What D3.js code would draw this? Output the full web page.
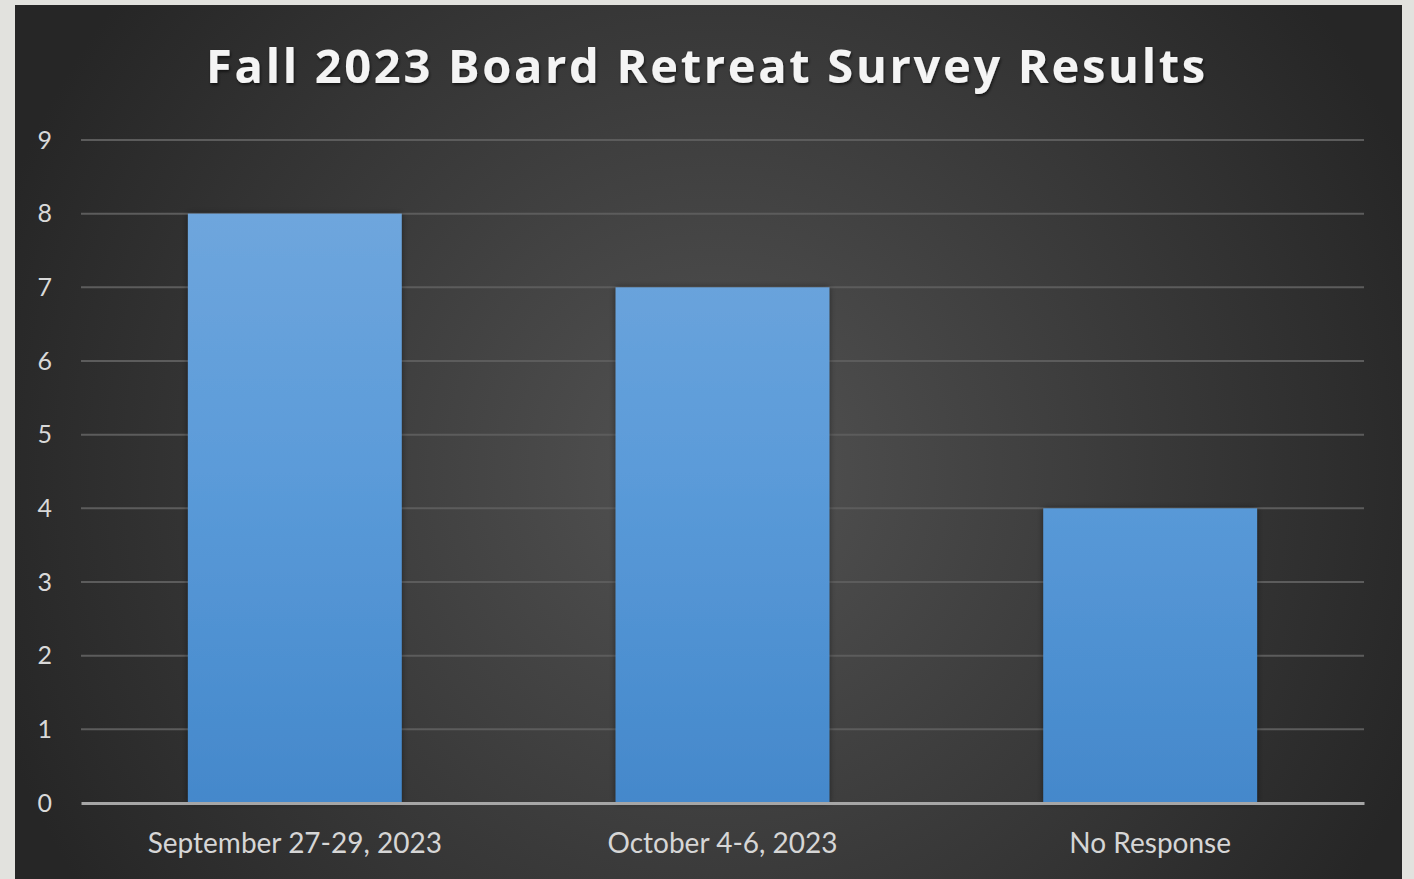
<!DOCTYPE html>
<html>
<head>
<meta charset="utf-8">
<script src="https://cdn.jsdelivr.net/npm/d3@7"></script>
<style>
  html, body { margin: 0; padding: 0; background: #e2e2de; }
  svg { display: block; }
</style>
</head>
<body>
<svg id="chart" width="1414" height="879"></svg>
<script>
// Survey data
const categories = ["September 27-29, 2023", "October 4-6, 2023", "No Response"];
const responses = [8, 7, 4];
const yTicks = [0, 1, 2, 3, 4, 5, 6, 7, 8, 9];
const titleText = "Fall 2023 Board Retreat Survey Results";

const svg = d3.select("#chart");

// Panel geometry
const panel = { x: 15, y: 5, w: 1387, h: 880 };
const plot = { left: 81, right: 1364, top: 140, bottom: 803 };

const defs = svg.append("defs");

const bg = defs.append("radialGradient")
  .attr("id", "bgGrad")
  .attr("gradientUnits", "userSpaceOnUse")
  .attr("cx", 715).attr("cy", 470).attr("r", 760);
bg.append("stop").attr("offset", "0%").attr("stop-color", "#535353");
bg.append("stop").attr("offset", "55%").attr("stop-color", "#3a3a3a");
bg.append("stop").attr("offset", "100%").attr("stop-color", "#262626");

const barGrad = defs.append("linearGradient")
  .attr("id", "barGrad")
  .attr("gradientUnits", "userSpaceOnUse")
  .attr("x1", 0).attr("y1", plot.top).attr("x2", 0).attr("y2", plot.bottom);
barGrad.append("stop").attr("offset", "0%").attr("stop-color", "#74a9de");
barGrad.append("stop").attr("offset", "50%").attr("stop-color", "#5b9bd9");
barGrad.append("stop").attr("offset", "100%").attr("stop-color", "#4488cb");

const shadow = defs.append("filter").attr("id", "barShadow")
  .attr("x", "-10%").attr("y", "-10%").attr("width", "120%").attr("height", "120%");
shadow.append("feDropShadow")
  .attr("dx", 0).attr("dy", 0).attr("stdDeviation", 3)
  .attr("flood-color", "#000").attr("flood-opacity", 0.45);

const tShadow = defs.append("filter").attr("id", "titleShadow")
  .attr("x", "-5%").attr("y", "-30%").attr("width", "110%").attr("height", "160%");
tShadow.append("feDropShadow")
  .attr("dx", 1).attr("dy", 2).attr("stdDeviation", 1.5)
  .attr("flood-color", "#000").attr("flood-opacity", 0.6);

// Background panel
svg.append("rect")
  .attr("x", panel.x).attr("y", panel.y)
  .attr("width", panel.w).attr("height", panel.h)
  .attr("fill", "url(#bgGrad)");

// Scales
const x = d3.scaleBand()
  .domain(categories)
  .range([plot.left, plot.right])
  .paddingInner(0.5)
  .paddingOuter(0.25);

const y = d3.scaleLinear()
  .domain([0, 9])
  .range([plot.bottom, plot.top]);

// Gridlines
svg.append("g")
  .selectAll("line")
  .data(yTicks.filter(d => d > 0))
  .join("line")
  .attr("x1", plot.left).attr("x2", plot.right)
  .attr("y1", d => y(d)).attr("y2", d => y(d))
  .attr("stroke", "#5c5c5c")
  .attr("stroke-width", 2);

// Y axis labels
const yAxis = svg.append("g")
  .attr("transform", `translate(${plot.left},0)`)
  .call(d3.axisLeft(y).tickValues(yTicks).tickSize(0).tickPadding(29).tickFormat(d3.format("d")));
yAxis.select(".domain").remove();
yAxis.selectAll("text")
  .attr("fill", "#d9d9d9")
  .style("font-family", "Lato, 'Open Sans', sans-serif")
  .style("font-size", "25px");

// Bars
svg.append("g")
  .selectAll("rect")
  .data(categories.map((c, i) => ({ c, v: responses[i] })))
  .join("rect")
  .attr("x", d => x(d.c))
  .attr("y", d => y(d.v))
  .attr("width", x.bandwidth())
  .attr("height", d => y(0) - y(d.v))
  .attr("fill", "url(#barGrad)")
  .attr("filter", "url(#barShadow)");

// X axis
const xAxis = svg.append("g")
  .attr("transform", `translate(0,${plot.bottom})`)
  .call(d3.axisBottom(x).tickSize(0).tickPadding(30));
xAxis.select(".domain")
  .attr("stroke", "#a6a6a6")
  .attr("stroke-width", 3);
xAxis.selectAll("text")
  .attr("fill", "#d6d6d6")
  .style("font-family", "Lato, 'Open Sans', sans-serif")
  .style("font-size", "28px");

// Title
svg.append("text")
  .attr("x", 707)
  .attr("y", 83)
  .attr("text-anchor", "middle")
  .attr("fill", "#f4f4f4")
  .attr("filter", "url(#titleShadow)")
  .style("font-family", "'Open Sans', Lato, sans-serif")
  .style("font-weight", "700")
  .style("font-size", "47px")
  .style("letter-spacing", "2.7px")
  .text(titleText);
</script>
</body>
</html>
